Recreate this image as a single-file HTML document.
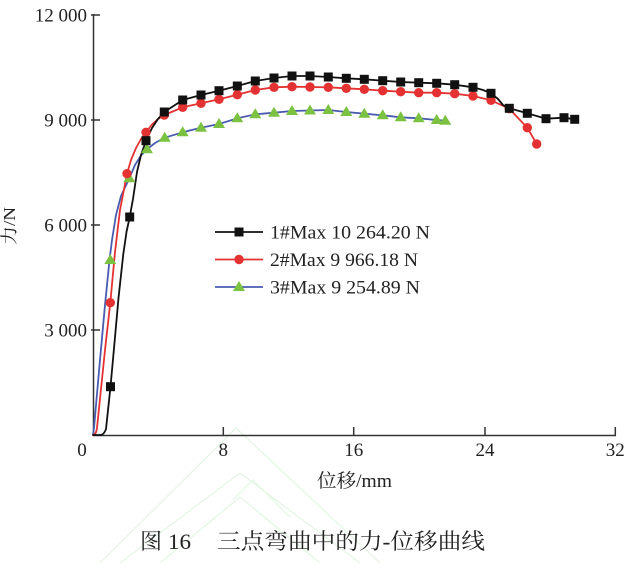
<!DOCTYPE html>
<html>
<head>
<meta charset="utf-8">
<style>
html,body{margin:0;padding:0;background:#fff;}
svg{display:block;}
text{font-family:"Liberation Serif","Noto Serif CJK SC",serif;fill:#222;}
</style>
</head>
<body>
<svg width="629" height="563" viewBox="0 0 629 563" xmlns="http://www.w3.org/2000/svg">
<rect width="629" height="563" fill="#fff"/>
<!-- faint watermark -->
<g stroke="#e3f6e3" stroke-width="1.2" fill="none">
<path d="M100,563 L236,428 L380,563"/>
<path d="M120,563 L240,473 L360,563"/>
<path d="M160,563 L240,497 L320,563"/>
<path d="M233,500 L253,480 L290,517"/>
</g>

<!-- axes -->
<g stroke="#333" stroke-width="1.5" fill="none">
<line x1="93.5" y1="14" x2="93.5" y2="435.5"/>
<line x1="93" y1="435.5" x2="616" y2="435.5"/>
<line x1="91" y1="15" x2="100" y2="15"/>
<line x1="91" y1="120" x2="100" y2="120"/>
<line x1="91" y1="225" x2="100" y2="225"/>
<line x1="91" y1="330" x2="100" y2="330"/>
<line x1="223.3" y1="427" x2="223.3" y2="435"/>
<line x1="353.7" y1="427" x2="353.7" y2="435"/>
<line x1="485" y1="427" x2="485" y2="435"/>
<line x1="615.3" y1="427" x2="615.3" y2="435"/>
</g>

<!-- y tick labels -->
<g font-size="19" text-anchor="end">
<text x="87" y="21.5">12 000</text>
<text x="87" y="126.5">9 000</text>
<text x="87" y="231.5">6 000</text>
<text x="87" y="336.5">3 000</text>
</g>
<!-- x tick labels -->
<g font-size="19" text-anchor="middle">
<text x="82" y="456">0</text>
<text x="223.3" y="456">8</text>
<text x="353.7" y="456">16</text>
<text x="485" y="456">24</text>
<text x="615.3" y="456">32</text>
</g>

<!-- axis labels -->
<text x="317" y="487" font-size="19" textLength="75" lengthAdjust="spacingAndGlyphs">位移/mm</text>
<text transform="translate(15,245) rotate(-90)" font-size="17" textLength="38" lengthAdjust="spacingAndGlyphs">力/N</text>

<!-- curves -->
<g fill="none" stroke-width="1.8" stroke-linejoin="round" stroke-linecap="round">
<path stroke="#4a5cb0" d="M93,435 L94,428 L100,360 L105,305 L109.5,260 L112,240 L116,215 L121,196 L129.3,178.3 L135,165 L141,155.5 L147,149.3 L155,143 L164.7,137.7 L182.7,132.3 L201,127.7 L219,124 L237.3,118.3 L255.3,114.3 L274,112.7 L292,111 L310,110.5 L328.3,110 L346.3,112 L364.3,113.7 L382.7,115.3 L400.7,117.3 L418.7,118.3 L436.7,120 L445.3,120.7"/>
<path stroke="#e43232" d="M93,435 Q96,435 97,428 L105,350 L110.3,302.7 L115,252 L120,210 L127,173.7 L131,160 L136,148 L141,139 L146,132.3 L152,124.5 L158,119 L164.3,115 L182.7,107.3 L201,103.3 L219,99.3 L237.3,94.7 L255.3,90 L274,87.3 L292,86.7 L310,87 L328.3,87.3 L346.3,88.3 L364.3,89.3 L382.7,90.7 L400.7,91.7 L418.7,92.7 L436.7,92.7 L454.7,93.7 L473,96 L491,100.3 L509.3,108.7 L527.3,127.7 L536.7,144"/>
<path stroke="#111" d="M93,435 L100,435 Q104,435 106,429 L110.5,386.7 L114.3,345 L118.5,298 L123.3,254 L126.5,232 L129.7,217 L133,199 L137,172 L141,155 L146,140.7 L152,128 L158,119 L164.3,112 L182.7,100 L201,95 L219,90.7 L237.3,86 L255.3,81 L274,78 L292,76 L310,76 L328.3,77 L346.3,78.3 L364.3,79.3 L382.7,80.7 L400.7,82 L418.7,82.7 L436.7,83.3 L454.7,84.7 L473,87.3 L483,90 L491,93.3 L498,99 L503,105 L509.3,108.3 L527.3,113.3 L546,118.7 L564,117.7 L574.7,119.3"/>
</g>

<!-- green triangles -->
<g fill="#7cc242">
<polygon points="110.3,254 116.3,264 104.3,264"/>
<polygon points="129.3,172.3 135.3,182.3 123.3,182.3"/>
<polygon points="147,143.3 153,153.3 141,153.3"/>
<polygon points="164.7,131.7 170.7,141.7 158.7,141.7"/>
<polygon points="182.7,126.3 188.7,136.3 176.7,136.3"/>
<polygon points="201,121.7 207,131.7 195,131.7"/>
<polygon points="219,118 225,128 213,128"/>
<polygon points="237.3,112.3 243.3,122.3 231.3,122.3"/>
<polygon points="255.3,108.3 261.3,118.3 249.3,118.3"/>
<polygon points="274,106.7 280,116.7 268,116.7"/>
<polygon points="292,105 298,115 286,115"/>
<polygon points="310,104.5 316,114.5 304,114.5"/>
<polygon points="328.3,104 334.3,114 322.3,114"/>
<polygon points="346.3,106 352.3,116 340.3,116"/>
<polygon points="364.3,107.7 370.3,117.7 358.3,117.7"/>
<polygon points="382.7,109.3 388.7,119.3 376.7,119.3"/>
<polygon points="400.7,111.3 406.7,121.3 394.7,121.3"/>
<polygon points="418.7,112.3 424.7,122.3 412.7,122.3"/>
<polygon points="436.7,114 442.7,124 430.7,124"/>
<polygon points="445.3,114.7 451.3,124.7 439.3,124.7"/>
</g>

<!-- red circles -->
<g fill="#e43232">
<circle cx="110.3" cy="302.7" r="4.7"/>
<circle cx="127" cy="173.7" r="4.7"/>
<circle cx="146" cy="132.3" r="4.7"/>
<circle cx="164.3" cy="115" r="4.7"/>
<circle cx="182.7" cy="107.3" r="4.7"/>
<circle cx="201" cy="103.3" r="4.7"/>
<circle cx="219" cy="99.3" r="4.7"/>
<circle cx="237.3" cy="94.7" r="4.7"/>
<circle cx="255.3" cy="90" r="4.7"/>
<circle cx="274" cy="87.3" r="4.7"/>
<circle cx="292" cy="86.7" r="4.7"/>
<circle cx="310" cy="87" r="4.7"/>
<circle cx="328.3" cy="87.3" r="4.7"/>
<circle cx="346.3" cy="88.3" r="4.7"/>
<circle cx="364.3" cy="89.3" r="4.7"/>
<circle cx="382.7" cy="90.7" r="4.7"/>
<circle cx="400.7" cy="91.7" r="4.7"/>
<circle cx="418.7" cy="92.7" r="4.7"/>
<circle cx="436.7" cy="92.7" r="4.7"/>
<circle cx="454.7" cy="93.7" r="4.7"/>
<circle cx="473" cy="96" r="4.7"/>
<circle cx="491" cy="100.3" r="4.7"/>
<circle cx="509.3" cy="108.7" r="4.7"/>
<circle cx="527.3" cy="127.7" r="4.7"/>
<circle cx="536.7" cy="144" r="4.7"/>
</g>

<!-- black squares -->
<g fill="#111">
<rect x="106" y="382.2" width="9" height="9"/>
<rect x="125.2" y="212.5" width="9" height="9"/>
<rect x="141.5" y="136.2" width="9" height="9"/>
<rect x="159.8" y="107.5" width="9" height="9"/>
<rect x="178.2" y="95.5" width="9" height="9"/>
<rect x="196.5" y="90.5" width="9" height="9"/>
<rect x="214.5" y="86.2" width="9" height="9"/>
<rect x="232.8" y="81.5" width="9" height="9"/>
<rect x="250.8" y="76.5" width="9" height="9"/>
<rect x="269.5" y="73.5" width="9" height="9"/>
<rect x="287.5" y="71.5" width="9" height="9"/>
<rect x="305.5" y="71.5" width="9" height="9"/>
<rect x="323.8" y="72.5" width="9" height="9"/>
<rect x="341.8" y="73.8" width="9" height="9"/>
<rect x="359.8" y="74.8" width="9" height="9"/>
<rect x="378.2" y="76.2" width="9" height="9"/>
<rect x="396.2" y="77.5" width="9" height="9"/>
<rect x="414.2" y="78.2" width="9" height="9"/>
<rect x="432.2" y="78.8" width="9" height="9"/>
<rect x="450.2" y="80.2" width="9" height="9"/>
<rect x="468.5" y="82.8" width="9" height="9"/>
<rect x="486.5" y="88.8" width="9" height="9"/>
<rect x="504.8" y="103.8" width="9" height="9"/>
<rect x="522.8" y="108.8" width="9" height="9"/>
<rect x="541.5" y="114.2" width="9" height="9"/>
<rect x="559.5" y="113.2" width="9" height="9"/>
<rect x="570.2" y="114.8" width="9" height="9"/>
</g>

<!-- legend -->
<g stroke-width="1.8">
<line x1="215" y1="232" x2="263" y2="232" stroke="#111"/>
<line x1="215" y1="259.5" x2="263" y2="259.5" stroke="#e43232"/>
<line x1="215" y1="287" x2="263" y2="287" stroke="#4a5cb0"/>
</g>
<rect x="234.5" y="227.5" width="9" height="9" fill="#111"/>
<circle cx="239" cy="259.5" r="4.7" fill="#e43232"/>
<polygon points="239,281 245,291 233,291" fill="#7cc242"/>
<g font-size="19">
<text x="270" y="238.5" textLength="160" lengthAdjust="spacingAndGlyphs">1#Max 10 264.20 N</text>
<text x="270" y="266" textLength="148" lengthAdjust="spacingAndGlyphs">2#Max 9 966.18 N</text>
<text x="270" y="293.5" textLength="150" lengthAdjust="spacingAndGlyphs">3#Max 9 254.89 N</text>
</g>

<!-- caption -->
<text x="140" y="549" font-size="22">图</text>
<text x="168" y="549" font-size="22" textLength="23" lengthAdjust="spacingAndGlyphs">16</text>
<text x="217" y="549" font-size="22" textLength="268" lengthAdjust="spacingAndGlyphs">三点弯曲中的力-位移曲线</text>
</svg>
</body>
</html>
